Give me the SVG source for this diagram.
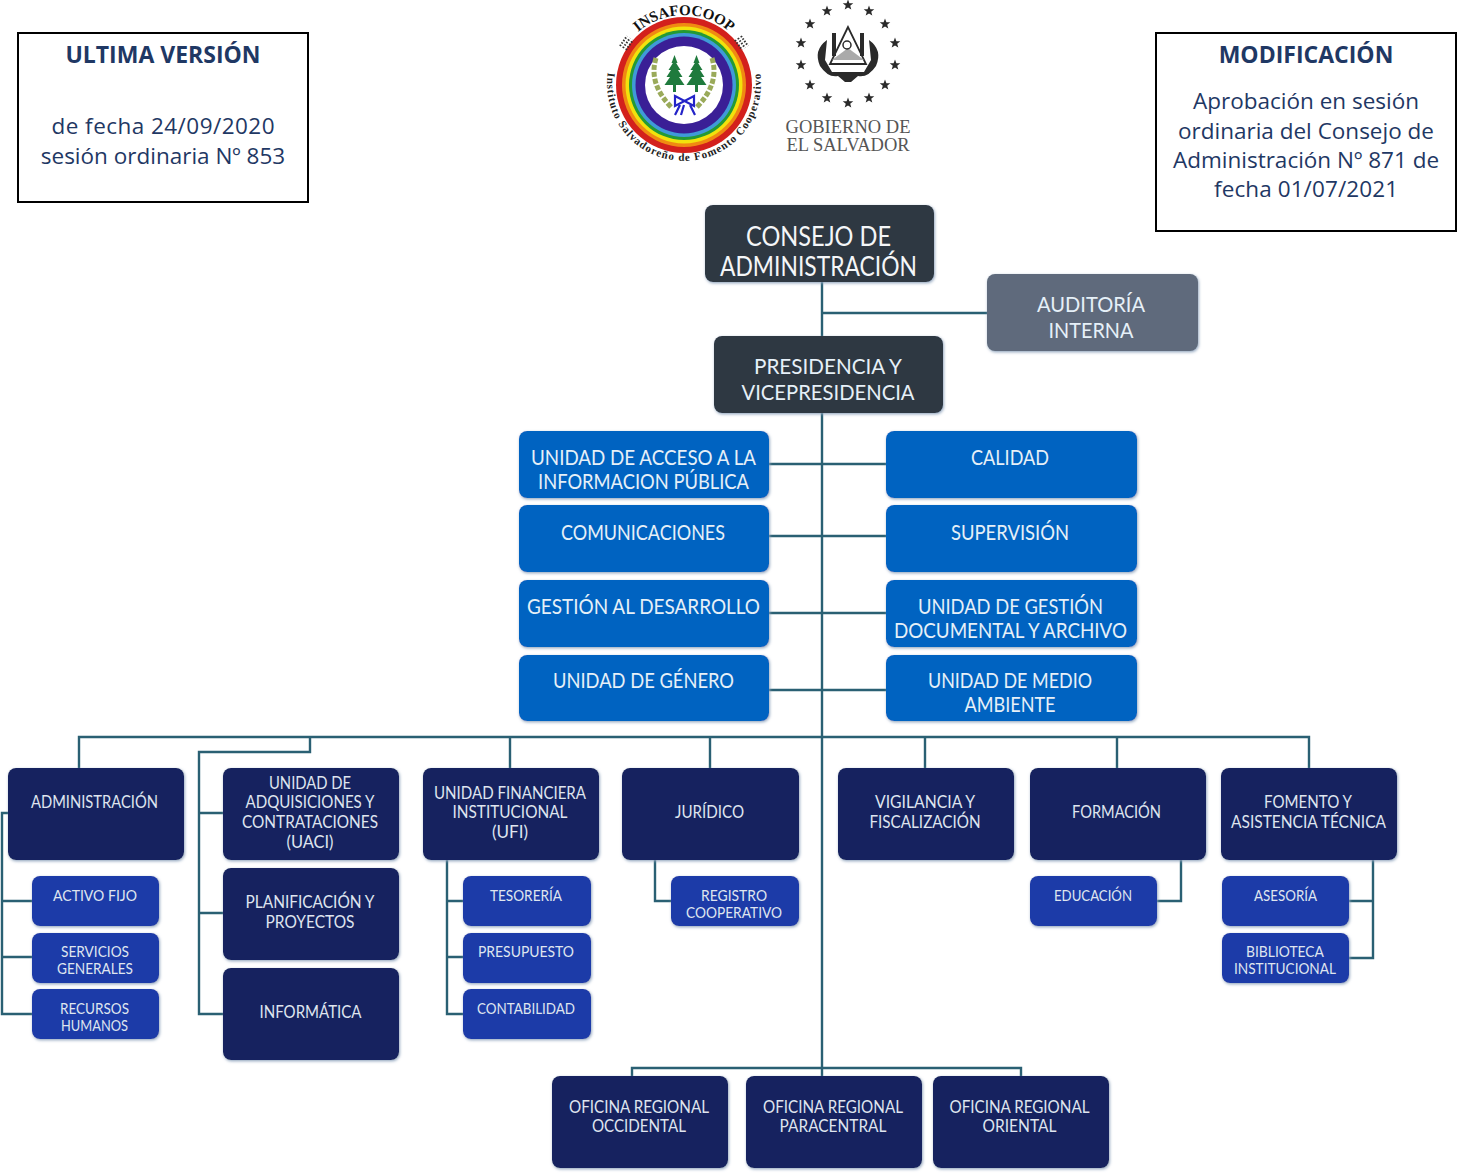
<svg xmlns="http://www.w3.org/2000/svg" width="1459" height="1173" viewBox="0 0 1459 1173">
<style>
text{font-family:"Lato","Open Sans","Liberation Sans",sans-serif;text-anchor:middle}
.hb{fill:#fff;stroke:#000;stroke-width:2}
.ht,.hp{font-family:"Open Sans","Noto Sans",sans-serif;fill:#1f3864}
.ht{font-size:23px;font-weight:700}
.hp{font-size:22.5px}
.n{rx:8px;ry:8px;filter:url(#glow)}
.dk{fill:#2d3743}
.gr{fill:#5f6b7b}
.bl{fill:#0563c1}
.nv{fill:#12205f}
.sb{fill:#1f3aa8}
.t26{fill:#f4f6f8;font-size:26px}
.t22{fill:#e6f0f8;font-size:21.5px}
.t17{fill:#dfe5ef;font-size:16.5px}
.t15{fill:#dfe5ef;font-size:15px}
#connectors path{fill:none;stroke:#2a6073;stroke-width:2.4}
.star{fill:#2a2a2a}
.serif{font-family:"Liberation Serif",serif}
</style>
<defs>
<filter id="glow" x="-10%" y="-10%" width="120%" height="125%"><feDropShadow dx="0.8" dy="1.2" stdDeviation="1.8" flood-color="#8ea3bc" flood-opacity="1"/></filter>
<polygon id="s" points="0,-5.5 1.4,-1.8 5.3,-1.7 2.2,0.7 3.3,4.6 0,2.4 -3.3,4.6 -2.2,0.7 -5.3,-1.7 -1.4,-1.8"/>
<polygon id="tree" points="0,-19 3,-11 1.6,-11 6,-4 3.5,-4 8,3 4.5,3 10,11 1.5,11 1.5,18 -1.5,18 -1.5,11 -10,11 -4.5,3 -8,3 -3.5,-4 -6,-4 -1.6,-11 -3,-11"/>
<path id="arcTop" d="M 614 85 A 70 70 0 0 1 754 85"/>
<path id="arcBot" d="M 610.500 61 A 77 77 0 1 0 757.500 61"/>
</defs>

<g id="connectors">
<path d="M822 282V1076M822 313H987M769 464H886M769 536H886M769 613H886M769 690H886"/>
<path d="M79 768V737H1309V768M510 737V768M710 737V768M925 737V768M1117 737V768"/>
<path d="M310 737V752H199V1014H223M199 813H223M199 913H223"/>
<path d="M8 813H2V1014H32M2 901H32M2 957H32"/>
<path d="M447 860V1014H463M447 901H463M447 957H463"/>
<path d="M655 860V901H671"/>
<path d="M1181 860V901H1157"/>
<path d="M1373 860V958H1349M1349 901H1373"/>
<path d="M632 1076V1068H1021V1076"/>
</g>

<g id="box-ultima"><rect class="hb" x="18" y="33" width="290" height="169"/>
<text class="ht" x="163" y="63">ULTIMA VERSIÓN</text>
<text class="hp" x="163" y="134" textLength="223">de fecha 24/09/2020</text>
<text class="hp" x="163" y="164">sesión ordinaria Nº 853</text></g>
<g id="box-modificacion"><rect class="hb" x="1156" y="33" width="300" height="198"/>
<text class="ht" x="1306" y="63">MODIFICACIÓN</text>
<text class="hp" x="1306" y="109">Aprobación en sesión</text>
<text class="hp" x="1306" y="139">ordinaria del Consejo de</text>
<text class="hp" x="1306" y="168">Administración Nº 871 de</text>
<text class="hp" x="1306" y="197" textLength="184">fecha 01/07/2021</text></g>

<g id="logo-insafocoop">
<circle cx="684" cy="85" r="68" fill="#d3201c"/>
<circle cx="684" cy="85" r="62" fill="#f08a12"/>
<circle cx="684" cy="85" r="58.500" fill="#f2e20c"/>
<circle cx="684" cy="85" r="55" fill="#239a36"/>
<circle cx="684" cy="85" r="52" fill="#3f9ad8"/>
<circle cx="684" cy="85" r="48.500" fill="#3a1f96"/>
<circle cx="684" cy="85" r="39" fill="#fff"/>
<use href="#tree" x="674.500" y="74" fill="#1f7a3d"/>
<use href="#tree" x="696.500" y="74" fill="#1f7a3d"/>
<path d="M656 58Q648 84 672 108M712 58Q720 84 696 108" fill="none" stroke="#9aaa5a" stroke-width="5" stroke-dasharray="5 2"/>
<path d="M675 96L694 106V96L675 106ZM680 105L675 115M690 105L695 115M684 105L681 115" fill="none" stroke="#2323c8" stroke-width="2.200"/>
<path d="M620 46L627 36M623 48L630 38M626 50L633 40M741 36L748 46M738 38L745 48M735 40L742 50" stroke="#333" stroke-width="2" stroke-dasharray="1.500 1.500"/>
<text class="serif" style="font-weight:700;font-size:15px;fill:#111"><textPath href="#arcTop" startOffset="50%">INSAFOCOOP</textPath></text>
<text class="serif" style="font-weight:700;font-size:11px;fill:#222;letter-spacing:1px"><textPath href="#arcBot" startOffset="50%">Instituto Salvadoreño de Fomento Cooperativo</textPath></text>
</g>

<g id="logo-gobierno">
<g class="star">
<use href="#s" x="848" y="5"/><use href="#s" x="827" y="11"/><use href="#s" x="869" y="11"/>
<use href="#s" x="810" y="24"/><use href="#s" x="885" y="24"/>
<use href="#s" x="801" y="43"/><use href="#s" x="895" y="43"/>
<use href="#s" x="801" y="65"/><use href="#s" x="895" y="65"/>
<use href="#s" x="810" y="85"/><use href="#s" x="885" y="85"/>
<use href="#s" x="827" y="98"/><use href="#s" x="869" y="98"/><use href="#s" x="848" y="103"/>
</g>
<path d="M848 27L830 64H866Z" fill="#fff" stroke="#2a2a2a" stroke-width="1.800"/>
<path d="M832 60L848 48L864 60Z" fill="#aaa"/>
<circle cx="847" cy="45" r="4" fill="none" stroke="#2a2a2a" stroke-width="1.500"/>
<path d="M834 33V56M862 33V56" stroke="#2a2a2a" stroke-width="4"/>
<path d="M827 40Q813 50 820 66Q828 78 838 76L845 82H851L858 76Q868 78 876 66Q883 50 869 40L871 60L864 72H832L825 60Z" fill="#2a2a2a"/>
<text class="serif" style="font-size:18.500px;fill:#555"><tspan x="848" y="133">GOBIERNO DE</tspan><tspan x="848" y="151">EL SALVADOR</tspan></text>
</g>

<g id="consejo"><rect class="n dk" x="705" y="205" width="229" height="77"/><text class="t26" x="818.500" y="246" textLength="145" lengthAdjust="spacingAndGlyphs">CONSEJO DE</text><text class="t26" x="818.500" y="276" textLength="197" lengthAdjust="spacingAndGlyphs">ADMINISTRACIÓN</text></g>
<g id="auditoria"><rect class="n gr" x="987" y="274" width="211" height="77"/><text class="t22" x="1091" y="312" textLength="108" lengthAdjust="spacingAndGlyphs">AUDITORÍA</text><text class="t22" x="1091" y="338" textLength="85" lengthAdjust="spacingAndGlyphs">INTERNA</text></g>
<g id="presidencia"><rect class="n dk" x="714" y="336" width="229" height="77"/><text class="t22" x="828" y="374" textLength="148" lengthAdjust="spacingAndGlyphs">PRESIDENCIA Y</text><text class="t22" x="828" y="400" textLength="173" lengthAdjust="spacingAndGlyphs">VICEPRESIDENCIA</text></g>

<g id="acceso"><rect class="n bl" x="519" y="431" width="250" height="67"/><text class="t22" x="643.500" y="465" textLength="225" lengthAdjust="spacingAndGlyphs">UNIDAD DE ACCESO A LA</text><text class="t22" x="643.500" y="489" textLength="211" lengthAdjust="spacingAndGlyphs">INFORMACION PÚBLICA</text></g>
<g id="comunicaciones"><rect class="n bl" x="519" y="505" width="250" height="67"/><text class="t22" x="643" y="540" textLength="164" lengthAdjust="spacingAndGlyphs">COMUNICACIONES</text></g>
<g id="gestion"><rect class="n bl" x="519" y="580" width="250" height="67"/><text class="t22" x="643.500" y="614" textLength="233" lengthAdjust="spacingAndGlyphs">GESTIÓN AL DESARROLLO</text></g>
<g id="genero"><rect class="n bl" x="519" y="655" width="250" height="66"/><text class="t22" x="643.500" y="688" textLength="181" lengthAdjust="spacingAndGlyphs">UNIDAD DE GÉNERO</text></g>
<g id="calidad"><rect class="n bl" x="886" y="431" width="251" height="67"/><text class="t22" x="1010" y="465" textLength="78" lengthAdjust="spacingAndGlyphs">CALIDAD</text></g>
<g id="supervision"><rect class="n bl" x="886" y="505" width="251" height="67"/><text class="t22" x="1010" y="540" textLength="118" lengthAdjust="spacingAndGlyphs">SUPERVISIÓN</text></g>
<g id="documental"><rect class="n bl" x="886" y="580" width="251" height="67"/><text class="t22" x="1010.500" y="614" textLength="185" lengthAdjust="spacingAndGlyphs">UNIDAD DE GESTIÓN</text><text class="t22" x="1010.500" y="638" textLength="233" lengthAdjust="spacingAndGlyphs">DOCUMENTAL Y ARCHIVO</text></g>
<g id="ambiente"><rect class="n bl" x="886" y="655" width="251" height="66"/><text class="t22" x="1010" y="688" textLength="164" lengthAdjust="spacingAndGlyphs">UNIDAD DE MEDIO</text><text class="t22" x="1010" y="712" textLength="91" lengthAdjust="spacingAndGlyphs">AMBIENTE</text></g>

<g id="administracion"><rect class="n nv" x="8" y="768" width="176" height="92"/><text class="t17" x="94.500" y="808" textLength="127" lengthAdjust="spacingAndGlyphs">ADMINISTRACIÓN</text></g>
<g id="uaci"><rect class="n nv" x="223" y="768" width="176" height="92"/><text class="t17" x="310" y="788.500" textLength="82" lengthAdjust="spacingAndGlyphs">UNIDAD DE</text><text class="t17" x="310" y="808" textLength="129" lengthAdjust="spacingAndGlyphs">ADQUISICIONES Y</text><text class="t17" x="310" y="827.500" textLength="136" lengthAdjust="spacingAndGlyphs">CONTRATACIONES</text><text class="t17" x="310" y="847.500" textLength="47" lengthAdjust="spacingAndGlyphs">(UACI)</text></g>
<g id="ufi"><rect class="n nv" x="423" y="768" width="176" height="92"/><text class="t17" x="510" y="798.500" textLength="152" lengthAdjust="spacingAndGlyphs">UNIDAD FINANCIERA</text><text class="t17" x="510" y="818" textLength="115" lengthAdjust="spacingAndGlyphs">INSTITUCIONAL</text><text class="t17" x="510" y="837.500" textLength="36" lengthAdjust="spacingAndGlyphs">(UFI)</text></g>
<g id="juridico"><rect class="n nv" x="622" y="768" width="177" height="92"/><text class="t17" x="709.500" y="818" textLength="69" lengthAdjust="spacingAndGlyphs">JURÍDICO</text></g>
<g id="vigilancia"><rect class="n nv" x="838" y="768" width="176" height="92"/><text class="t17" x="925" y="808" textLength="100" lengthAdjust="spacingAndGlyphs">VIGILANCIA Y</text><text class="t17" x="925" y="827.500" textLength="111" lengthAdjust="spacingAndGlyphs">FISCALIZACIÓN</text></g>
<g id="formacion"><rect class="n nv" x="1030" y="768" width="176" height="92"/><text class="t17" x="1116.500" y="818" textLength="89" lengthAdjust="spacingAndGlyphs">FORMACIÓN</text></g>
<g id="fomento"><rect class="n nv" x="1221" y="768" width="176" height="92"/><text class="t17" x="1308" y="808" textLength="88" lengthAdjust="spacingAndGlyphs">FOMENTO Y</text><text class="t17" x="1308.500" y="827.500" textLength="155" lengthAdjust="spacingAndGlyphs">ASISTENCIA TÉCNICA</text></g>
<g id="planificacion"><rect class="n nv" x="223" y="868" width="176" height="92"/><text class="t17" x="310" y="908" textLength="129" lengthAdjust="spacingAndGlyphs">PLANIFICACIÓN Y</text><text class="t17" x="310" y="927.500" textLength="89" lengthAdjust="spacingAndGlyphs">PROYECTOS</text></g>
<g id="informatica"><rect class="n nv" x="223" y="968" width="176" height="92"/><text class="t17" x="310.500" y="1018" textLength="102" lengthAdjust="spacingAndGlyphs">INFORMÁTICA</text></g>

<g id="activo"><rect class="n sb" x="32" y="876" width="127" height="50"/><text class="t15" x="95" y="901" textLength="84" lengthAdjust="spacingAndGlyphs">ACTIVO FIJO</text></g>
<g id="servicios"><rect class="n sb" x="32" y="933" width="127" height="50"/><text class="t15" x="95" y="957" textLength="68" lengthAdjust="spacingAndGlyphs">SERVICIOS</text><text class="t15" x="95" y="974" textLength="76" lengthAdjust="spacingAndGlyphs">GENERALES</text></g>
<g id="recursos"><rect class="n sb" x="32" y="989" width="127" height="50"/><text class="t15" x="94.500" y="1014" textLength="69" lengthAdjust="spacingAndGlyphs">RECURSOS</text><text class="t15" x="94.500" y="1031" textLength="67" lengthAdjust="spacingAndGlyphs">HUMANOS</text></g>
<g id="tesoreria"><rect class="n sb" x="463" y="876" width="128" height="50"/><text class="t15" x="526" y="901" textLength="72" lengthAdjust="spacingAndGlyphs">TESORERÍA</text></g>
<g id="presupuesto"><rect class="n sb" x="463" y="933" width="128" height="50"/><text class="t15" x="526" y="957" textLength="96" lengthAdjust="spacingAndGlyphs">PRESUPUESTO</text></g>
<g id="contabilidad"><rect class="n sb" x="463" y="989" width="128" height="50"/><text class="t15" x="526" y="1014" textLength="98" lengthAdjust="spacingAndGlyphs">CONTABILIDAD</text></g>
<g id="registro"><rect class="n sb" x="671" y="876" width="128" height="50"/><text class="t15" x="734" y="901" textLength="66" lengthAdjust="spacingAndGlyphs">REGISTRO</text><text class="t15" x="734" y="918" textLength="96" lengthAdjust="spacingAndGlyphs">COOPERATIVO</text></g>
<g id="educacion"><rect class="n sb" x="1030" y="876" width="127" height="50"/><text class="t15" x="1093" y="901" textLength="78" lengthAdjust="spacingAndGlyphs">EDUCACIÓN</text></g>
<g id="asesoria"><rect class="n sb" x="1222" y="876" width="127" height="50"/><text class="t15" x="1285.500" y="901" textLength="63" lengthAdjust="spacingAndGlyphs">ASESORÍA</text></g>
<g id="biblioteca"><rect class="n sb" x="1222" y="933" width="127" height="50"/><text class="t15" x="1285" y="957" textLength="78" lengthAdjust="spacingAndGlyphs">BIBLIOTECA</text><text class="t15" x="1285" y="974" textLength="102" lengthAdjust="spacingAndGlyphs">INSTITUCIONAL</text></g>

<g id="occidental"><rect class="n nv" x="552" y="1076" width="176" height="92"/><text class="t17" x="639" y="1113" textLength="140" lengthAdjust="spacingAndGlyphs">OFICINA REGIONAL</text><text class="t17" x="639" y="1132" textLength="94" lengthAdjust="spacingAndGlyphs">OCCIDENTAL</text></g>
<g id="paracentral"><rect class="n nv" x="746" y="1076" width="176" height="92"/><text class="t17" x="833" y="1113" textLength="140" lengthAdjust="spacingAndGlyphs">OFICINA REGIONAL</text><text class="t17" x="833" y="1132" textLength="107" lengthAdjust="spacingAndGlyphs">PARACENTRAL</text></g>
<g id="oriental"><rect class="n nv" x="933" y="1076" width="176" height="92"/><text class="t17" x="1019.500" y="1113" textLength="140" lengthAdjust="spacingAndGlyphs">OFICINA REGIONAL</text><text class="t17" x="1019.500" y="1132" textLength="74" lengthAdjust="spacingAndGlyphs">ORIENTAL</text></g>
</svg>
